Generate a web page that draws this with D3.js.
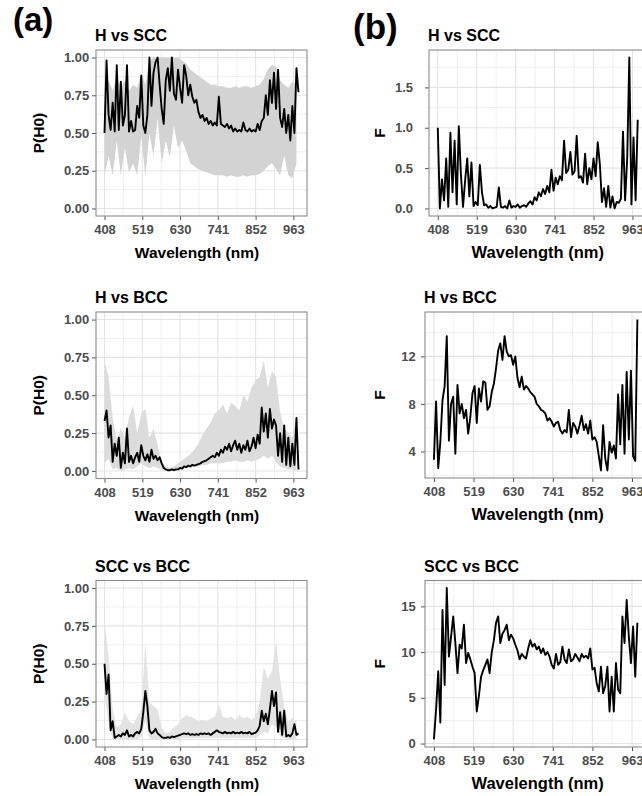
<!DOCTYPE html>
<html>
<head>
<meta charset="utf-8">
<script src="https://cdn.jsdelivr.net/npm/d3@7"></script>
<style>
  body { margin: 0; background: #fff; }
  svg { display: block; font-family: "Liberation Sans", Arial, Helvetica, sans-serif; }
  .panel-title { font-size: 16px; font-weight: bold; fill: #000; }
  .axis-label { font-weight: bold; fill: #000; }
  .panel-tag { font-weight: bold; fill: #000; }
</style>
</head>
<body>
<svg id="chart"></svg>
<script>
// wavelength grids (nm)
const wavelengths = d3.range(408, 979, 6);
const ribbonWavelengths = d3.range(408, 973, 12);
const xTicks = [408, 519, 630, 741, 852, 963];

// (a) P(H0) median lines
const hScc_p = [0.50,0.98,0.62,0.52,0.70,0.51,0.95,0.52,0.84,0.55,
  0.62,0.95,0.51,0.58,0.51,0.52,0.68,0.60,0.88,0.55,
  0.50,0.62,1.00,0.68,0.90,0.97,1.00,0.82,0.66,0.56,
  0.85,0.93,0.78,1.00,0.76,0.72,0.92,0.80,0.70,0.95,
  0.88,0.75,0.82,0.74,0.70,0.72,0.64,0.60,0.62,0.58,
  0.60,0.56,0.58,0.55,0.57,0.55,0.74,0.56,0.55,0.54,
  0.56,0.53,0.55,0.51,0.53,0.51,0.52,0.51,0.57,0.52,
  0.51,0.53,0.51,0.52,0.51,0.56,0.52,0.58,0.60,0.75,
  0.62,0.85,0.70,0.90,0.66,0.92,0.60,0.54,0.66,0.50,
  0.62,0.45,0.68,0.50,0.93,0.77];
const hBcc_p = [0.33,0.40,0.22,0.30,0.06,0.18,0.10,0.22,0.02,0.12,
  0.05,0.28,0.06,0.10,0.05,0.09,0.12,0.06,0.17,0.10,
  0.07,0.11,0.06,0.14,0.08,0.10,0.07,0.09,0.05,0.02,
  0.01,0.005,0.005,0.01,0.005,0.01,0.01,0.02,0.015,0.03,
  0.025,0.035,0.03,0.04,0.035,0.04,0.045,0.05,0.06,0.065,
  0.07,0.08,0.09,0.10,0.09,0.12,0.10,0.14,0.12,0.16,
  0.14,0.18,0.13,0.17,0.20,0.14,0.18,0.12,0.17,0.14,
  0.20,0.13,0.16,0.22,0.15,0.24,0.18,0.42,0.26,0.38,
  0.22,0.41,0.28,0.34,0.30,0.10,0.25,0.06,0.30,0.04,
  0.22,0.03,0.18,0.04,0.35,0.01];
const sccBcc_p = [0.50,0.30,0.43,0.06,0.12,0.01,0.02,0.03,0.02,0.04,
  0.03,0.06,0.02,0.03,0.02,0.04,0.05,0.04,0.07,0.18,
  0.32,0.22,0.06,0.04,0.05,0.07,0.04,0.03,0.015,0.01,
  0.01,0.015,0.01,0.02,0.015,0.02,0.025,0.03,0.035,0.04,
  0.035,0.04,0.03,0.035,0.03,0.035,0.03,0.04,0.035,0.04,
  0.035,0.04,0.03,0.04,0.05,0.06,0.05,0.045,0.04,0.05,
  0.04,0.045,0.04,0.05,0.04,0.045,0.04,0.05,0.04,0.045,
  0.04,0.05,0.035,0.04,0.045,0.06,0.09,0.19,0.12,0.17,
  0.10,0.20,0.32,0.22,0.31,0.05,0.18,0.03,0.19,0.02,
  0.03,0.02,0.04,0.10,0.03,0.04];

// (a) grey bands, lower and upper
const hScc_lo = [0.22,0.35,0.22,0.45,0.22,0.40,0.24,0.30,0.22,0.48,
  0.21,0.50,0.35,0.60,0.30,0.45,0.34,0.55,0.40,0.45,
  0.38,0.30,0.28,0.26,0.25,0.24,0.23,0.22,0.22,0.22,
  0.21,0.22,0.21,0.21,0.22,0.21,0.22,0.22,0.23,0.25,
  0.28,0.30,0.26,0.22,0.35,0.22,0.20,0.30];
const hScc_hi = [0.80,0.85,0.78,0.88,0.80,0.85,0.78,0.82,0.80,0.90,
  0.82,0.98,1.00,1.00,1.00,1.00,1.00,1.00,1.00,0.98,
  0.96,0.92,0.90,0.88,0.86,0.84,0.82,0.82,0.81,0.81,
  0.80,0.80,0.81,0.80,0.81,0.81,0.80,0.81,0.82,0.86,
  0.92,0.95,0.94,0.85,0.82,0.80,0.84,0.82];
const hBcc_lo = [0.05,0.08,0.01,0.02,0.00,0.01,0.02,0.01,0.03,0.05,
  0.03,0.02,0.03,0.02,0.01,0.00,0.00,0.00,0.00,0.01,
  0.02,0.02,0.03,0.03,0.04,0.04,0.05,0.05,0.05,0.05,
  0.06,0.06,0.07,0.06,0.06,0.07,0.06,0.07,0.08,0.10,
  0.08,0.10,0.06,0.03,0.02,0.01,0.01,0.00];
const hBcc_hi = [0.72,0.62,0.35,0.20,0.28,0.22,0.35,0.43,0.25,0.38,
  0.41,0.22,0.28,0.17,0.06,0.03,0.02,0.03,0.05,0.07,
  0.09,0.11,0.14,0.18,0.24,0.28,0.32,0.38,0.40,0.44,
  0.38,0.45,0.43,0.40,0.50,0.46,0.55,0.60,0.62,0.73,
  0.55,0.66,0.62,0.39,0.28,0.25,0.22,0.35];
const sccBcc_lo = [0.30,0.10,0.00,0.00,0.00,0.00,0.00,0.00,0.00,0.02,
  0.12,0.01,0.00,0.00,0.00,0.00,0.00,0.00,0.00,0.01,
  0.01,0.01,0.01,0.01,0.01,0.01,0.01,0.01,0.01,0.01,
  0.01,0.01,0.01,0.01,0.01,0.01,0.01,0.01,0.03,0.05,
  0.04,0.10,0.08,0.02,0.01,0.00,0.00,0.00];
const sccBcc_hi = [0.78,0.55,0.20,0.08,0.10,0.18,0.12,0.10,0.15,0.20,
  0.64,0.25,0.22,0.20,0.08,0.04,0.05,0.08,0.10,0.14,
  0.16,0.15,0.14,0.12,0.13,0.12,0.14,0.15,0.23,0.15,
  0.14,0.15,0.13,0.16,0.14,0.15,0.13,0.15,0.25,0.48,
  0.40,0.45,0.65,0.40,0.22,0.12,0.14,0.12];

// (b) F statistic
const hScc_f = [1.00,0.00,0.36,0.10,0.62,0.02,0.94,0.20,0.84,0.05,
  1.02,0.42,0.02,0.35,0.62,0.15,0.57,0.03,0.08,0.04,
  0.54,0.20,0.04,0.05,0.01,0.03,0.00,0.01,0.02,0.26,
  0.02,0.01,0.03,0.00,0.10,0.01,0.03,0.02,0.05,0.01,
  0.03,0.04,0.02,0.06,0.09,0.05,0.14,0.10,0.20,0.15,
  0.24,0.18,0.28,0.20,0.48,0.22,0.38,0.30,0.40,0.35,
  0.84,0.44,0.48,0.70,0.42,0.46,0.90,0.38,0.40,0.32,
  0.68,0.30,0.50,0.36,0.62,0.40,0.82,0.55,0.08,0.25,
  0.02,0.28,0.01,0.15,0.00,0.08,0.07,0.12,0.95,0.10,
  0.62,1.87,0.05,0.88,0.10,1.10];
const hBcc_f = [3.3,8.2,2.6,4.8,8.3,9.5,13.7,4.9,8.0,8.6,
  3.8,9.6,7.2,8.0,6.8,7.5,5.5,6.9,8.9,9.5,
  6.4,9.3,8.2,9.9,9.8,7.5,7.8,9.0,9.7,11.0,
  12.5,13.1,11.7,13.7,12.4,12.0,12.1,11.3,12.0,10.2,
  9.4,10.3,9.2,9.5,9.3,9.0,8.8,8.6,8.0,7.8,
  7.5,7.4,7.2,6.6,6.8,6.5,6.1,6.4,6.5,5.8,
  5.5,5.8,5.6,7.5,5.2,6.4,6.1,5.5,6.2,7.0,
  5.8,6.3,5.5,6.6,5.0,5.2,4.8,3.6,2.4,6.2,
  3.4,2.4,4.8,3.9,4.5,3.4,8.8,4.6,9.6,3.8,
  10.7,5.0,10.8,3.6,3.2,15.1];
const sccBcc_f = [0.45,3.7,7.9,2.3,14.6,6.4,17.0,9.5,11.7,13.9,
  11.0,7.7,10.8,10.4,13.0,8.8,9.9,9.2,8.4,7.7,
  3.5,5.2,7.3,8.0,8.6,9.2,7.7,10.0,11.3,13.2,
  13.9,11.0,12.0,12.4,13.0,11.3,11.9,11.5,10.8,10.2,
  9.2,9.8,9.5,9.3,10.4,11.3,10.6,10.9,10.3,10.6,
  9.9,10.4,9.7,10.0,9.5,8.6,8.2,9.8,8.6,8.9,
  10.6,9.2,8.8,10.3,9.0,9.2,9.8,9.4,9.0,9.8,
  9.4,9.6,9.3,10.4,8.1,8.3,6.6,5.7,8.4,5.5,
  6.3,8.4,3.5,7.3,3.5,8.8,5.9,5.5,13.9,11.0,
  15.7,11.7,8.8,12.8,7.3,13.2];

const pTicks = [0, 0.25, 0.5, 0.75, 1];
const fTicksHScc = [0, 0.5, 1.0, 1.5];
const fTicksHBcc = [4, 8, 12];
const fTicksSccBcc = [0, 5, 10, 15];

const svg = d3.select('#chart')
    .attr('width', 642)
    .attr('height', 796);

class SpectrumPanel {

  constructor(_config, _data) {
    this.config = {
      parentElement: _config.parentElement,
      left: _config.left,
      top: _config.top,
      width: _config.width,
      height: _config.height,
      title: _config.title,
      yLabel: _config.yLabel,
      yLabelX: _config.yLabelX,
      yTicks: _config.yTicks,
      yFormat: _config.yFormat,
      yRange: _config.yRange,
      yTickPadding: _config.yTickPadding,
      xTitleShift: _config.xTitleShift || 0,
      xTitleSize: _config.xTitleSize || 15.5,
      bandColor: _config.bandColor || '#d5d5d5'
    }
    this.data = _data;
    this.initVis();
  }

  initVis() {
    let vis = this;
    let c = vis.config;

    vis.chart = c.parentElement.append('g')
        .attr('transform', `translate(${c.left},${c.top})`);

    vis.xScale = d3.scaleLinear()
        .domain([383, 1003])
        .range([0, c.width]);

    // ggplot style 5% expansion of the data range
    let ext = c.yRange || d3.extent(vis.data.values);
    let pad = (ext[1] - ext[0]) * 0.05;
    vis.yScale = d3.scaleLinear()
        .domain([ext[0] - pad, ext[1] + pad])
        .range([c.height, 0]);

    vis.chart.append('rect')
        .attr('width', c.width)
        .attr('height', c.height)
        .attr('fill', '#fff');

    // minor + major grid
    let xStep = xTicks[1] - xTicks[0];
    let xMinor = xTicks.map(d => d - xStep / 2).concat([xTicks[xTicks.length - 1] + xStep / 2])
        .filter(d => d > vis.xScale.domain()[0] && d < vis.xScale.domain()[1]);
    let yStep = c.yTicks[1] - c.yTicks[0];
    let yDom = vis.yScale.domain();
    let yMinor = c.yTicks.map(d => d - yStep / 2).concat([c.yTicks[c.yTicks.length - 1] + yStep / 2])
        .filter(d => d > yDom[0] && d < yDom[1]);

    let grid = vis.chart.append('g').attr('class', 'grid');
    grid.selectAll('.vminor').data(xMinor).join('line')
        .attr('x1', d => vis.xScale(d)).attr('x2', d => vis.xScale(d))
        .attr('y1', 0).attr('y2', c.height)
        .attr('stroke', '#eeeeee').attr('stroke-width', 0.9);
    grid.selectAll('.hminor').data(yMinor).join('line')
        .attr('y1', d => vis.yScale(d)).attr('y2', d => vis.yScale(d))
        .attr('x1', 0).attr('x2', c.width)
        .attr('stroke', '#eeeeee').attr('stroke-width', 0.9);
    grid.selectAll('.vmajor').data(xTicks).join('line')
        .attr('x1', d => vis.xScale(d)).attr('x2', d => vis.xScale(d))
        .attr('y1', 0).attr('y2', c.height)
        .attr('stroke', '#e4e4e4').attr('stroke-width', 1.1);
    grid.selectAll('.hmajor').data(c.yTicks).join('line')
        .attr('y1', d => vis.yScale(d)).attr('y2', d => vis.yScale(d))
        .attr('x1', 0).attr('x2', c.width)
        .attr('stroke', '#e4e4e4').attr('stroke-width', 1.1);

    vis.xAxis = d3.axisBottom(vis.xScale)
        .tickValues(xTicks)
        .tickFormat(d3.format('d'))
        .tickSize(4)
        .tickPadding(5);
    vis.yAxis = d3.axisLeft(vis.yScale)
        .tickValues(c.yTicks)
        .tickFormat(d3.format(c.yFormat))
        .tickSize(4)
        .tickPadding(c.yTickPadding);

    vis.xAxisG = vis.chart.append('g')
        .attr('class', 'axis x-axis')
        .attr('transform', `translate(0,${c.height})`)
        .call(vis.xAxis);
    vis.yAxisG = vis.chart.append('g')
        .attr('class', 'axis y-axis')
        .call(vis.yAxis);

    [vis.xAxisG, vis.yAxisG].forEach(g => {
      g.select('.domain').remove();
      g.selectAll('.tick line').attr('stroke', '#555').attr('stroke-width', 1);
      g.selectAll('.tick text')
        .attr('fill', '#4d4d4d')
        .style('font-size', '13px')
        .style('font-weight', 'bold')
        .style('font-family', '"Liberation Sans", Arial, sans-serif');
    });

    // titles
    vis.chart.append('text')
        .attr('class', 'panel-title')
        .attr('x', -1)
        .attr('y', -9)
        .text(c.title);

    vis.chart.append('text')
        .attr('class', 'axis-label')
        .attr('x', c.width / 2 + c.xTitleShift)
        .attr('y', c.height + 42)
        .style('text-anchor', 'middle')
        .style('font-size', c.xTitleSize + 'px')
        .text('Wavelength (nm)');

    vis.chart.append('text')
        .attr('class', 'axis-label')
        .attr('transform', `translate(${c.yLabelX - c.left},${c.height / 2}) rotate(-90)`)
        .style('text-anchor', 'middle')
        .style('font-size', '15.5px')
        .text(c.yLabel);

    vis.renderVis();
  }

  renderVis() {
    let vis = this;
    let c = vis.config;

    if (vis.data.lower) {
      let band = ribbonWavelengths.map((w, i) => ({ w: w, lo: vis.data.lower[i], hi: vis.data.upper[i] }));
      let area = d3.area()
          .x(d => vis.xScale(d.w))
          .y0(d => vis.yScale(d.lo))
          .y1(d => vis.yScale(d.hi));
      vis.chart.append('path')
          .datum(band)
          .attr('d', area)
          .attr('fill', c.bandColor);
    }

    let pts = wavelengths.map((w, i) => ({ w: w, v: vis.data.values[i] }));
    let line = d3.line()
        .x(d => vis.xScale(d.w))
        .y(d => vis.yScale(d.v));
    vis.chart.append('path')
        .datum(pts)
        .attr('d', line)
        .attr('fill', 'none')
        .attr('stroke', '#000')
        .attr('stroke-width', 1.9)
        .attr('stroke-linejoin', 'round');

    vis.chart.append('rect')
        .attr('width', c.width)
        .attr('height', c.height)
        .attr('fill', 'none')
        .attr('stroke', '#8c8c8c')
        .attr('stroke-width', 1.1);
  }
}

// column (a)
new SpectrumPanel({ parentElement: svg, left: 96, top: 50, width: 211, height: 166,
  title: 'H vs SCC', yLabel: 'P(H0)', yLabelX: 43.5, yTicks: pTicks, yFormat: '.2f',
  yRange: [0, 1], yTickPadding: 2.8, xTitleShift: -4.5, bandColor: '#d3d3d3' },
  { values: hScc_p, lower: hScc_lo, upper: hScc_hi });
new SpectrumPanel({ parentElement: svg, left: 96, top: 312, width: 211, height: 166.5,
  title: 'H vs BCC', yLabel: 'P(H0)', yLabelX: 43.5, yTicks: pTicks, yFormat: '.2f',
  yRange: [0, 1], yTickPadding: 2.8, xTitleShift: -4.5, bandColor: '#dcdcdc' },
  { values: hBcc_p, lower: hBcc_lo, upper: hBcc_hi });
new SpectrumPanel({ parentElement: svg, left: 96, top: 580.5, width: 211, height: 166.5,
  title: 'SCC vs BCC', yLabel: 'P(H0)', yLabelX: 43.5, yTicks: pTicks, yFormat: '.2f',
  yRange: [0, 1], yTickPadding: 2.8, xTitleShift: -4.5, bandColor: '#e3e3e3' },
  { values: sccBcc_p, lower: sccBcc_lo, upper: sccBcc_hi });

// column (b)
new SpectrumPanel({ parentElement: svg, left: 429, top: 50, width: 217.5, height: 166,
  title: 'H vs SCC', yLabel: 'F', yLabelX: 385, yTicks: fTicksHScc, yFormat: '.1f',
  yTickPadding: 12, xTitleSize: 16.5 },
  { values: hScc_f });
new SpectrumPanel({ parentElement: svg, left: 425, top: 312, width: 221.3, height: 166,
  title: 'H vs BCC', yLabel: 'F', yLabelX: 385, yTicks: fTicksHBcc, yFormat: 'd',
  yTickPadding: 5.3, xTitleSize: 16.5, xTitleShift: 2 },
  { values: hBcc_f });
new SpectrumPanel({ parentElement: svg, left: 425, top: 580.5, width: 221.3, height: 166.5,
  title: 'SCC vs BCC', yLabel: 'F', yLabelX: 385, yTicks: fTicksSccBcc, yFormat: 'd',
  yTickPadding: 5.3, xTitleSize: 16.5, xTitleShift: 2 },
  { values: sccBcc_f });

// panel tags
svg.append('text').attr('class', 'panel-tag')
    .attr('x', 13).attr('y', 30.5)
    .style('font-size', '33px')
    .text('(a)');
svg.append('text').attr('class', 'panel-tag')
    .attr('x', 353).attr('y', 38.5)
    .style('font-size', '35px')
    .text('(b)');
</script>
</body>
</html>
